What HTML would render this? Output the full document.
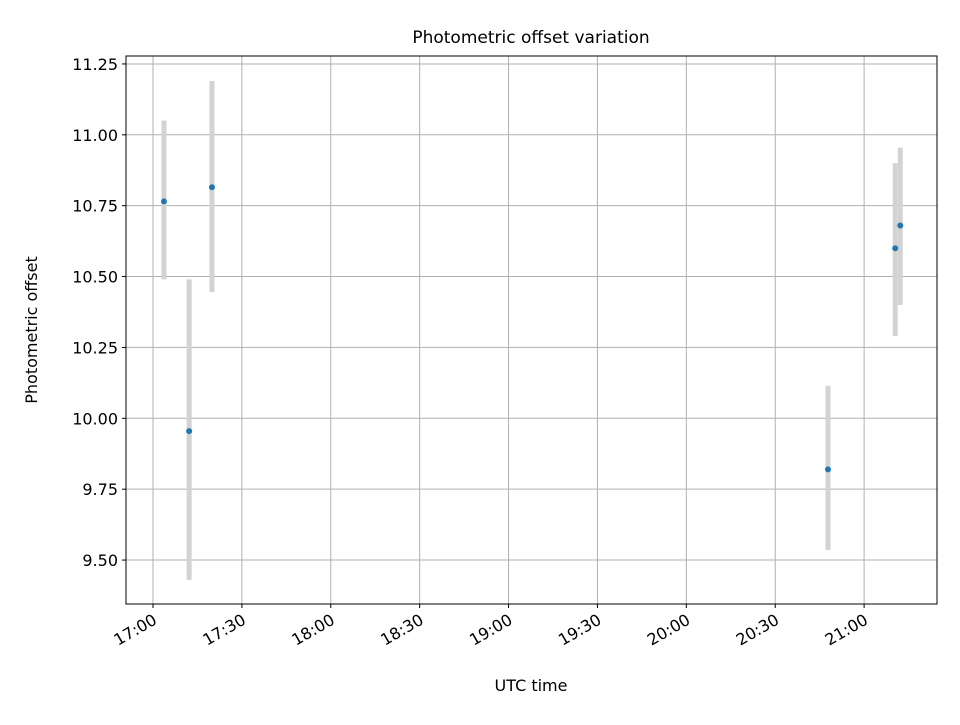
<!DOCTYPE html>
<html><head><meta charset="utf-8"><style>
body{margin:0;background:#fff}
svg{font-family:"DejaVu Sans","Liberation Sans",sans-serif}
</style></head><body>
<svg id="chart" width="960" height="720" viewBox="0 0 960 720">
<rect width="960" height="720" fill="#fff"/>
<text x="531" y="43" font-size="17" text-anchor="middle">Photometric offset variation</text>
<g id="grid"></g>
<g id="bars"></g>
<g id="points"></g>
<rect x="126" y="56" width="811" height="548" fill="none" stroke="#000" stroke-width="1"/>
<g id="yticks"></g>
<g id="xticks"></g>
<text x="531" y="691" font-size="16" text-anchor="middle">UTC time</text>
<text transform="translate(37,330) rotate(-90)" font-size="16" text-anchor="middle">Photometric offset</text>
</svg>
<script>
// minutes after 17:00 UTC
const times=[3.7,12.2,19.9,227.8,250.5,252.2];
const offsets=[10.765,9.955,10.815,9.82,10.6,10.68];
const errLow=[10.49,9.43,10.445,9.535,10.29,10.40];
const errHigh=[11.05,10.49,11.19,10.115,10.90,10.955];
const yTickValues=[9.5,9.75,10.0,10.25,10.5,10.75,11.0,11.25];
const yTickLabels=["9.50","9.75","10.00","10.25","10.50","10.75","11.00","11.25"];
const xTickValues=[0,30,60,90,120,150,180,210,240];
const xTickLabels=["17:00","17:30","18:00","18:30","19:00","19:30","20:00","20:30","21:00"];

const L=126,R=937,T=56,B=604;
const xMin=-9.11,xMax=264.6,yMin=9.345,yMax=11.278;
const sx=v=>L+(v-xMin)/(xMax-xMin)*(R-L);
const sy=v=>B-(v-yMin)/(yMax-yMin)*(B-T);
const NS="http://www.w3.org/2000/svg";
function mk(tag,attrs,parent){const e=document.createElementNS(NS,tag);for(const k in attrs)e.setAttribute(k,attrs[k]);document.getElementById(parent).appendChild(e);return e;}

yTickValues.forEach((v,i)=>{
  const y=sy(v);
  const g=mk("line",{x1:L,x2:R,y1:y,y2:y,stroke:"#b0b0b0","stroke-width":1},"grid");
  
  
  const t=mk("line",{x1:L-4,x2:L,y1:y,y2:y,stroke:"#000"},"yticks");
  
  
  const l=mk("text",{x:L-8,y:y+6,"font-size":16,"text-anchor":"end"},"yticks");
  l.textContent=yTickLabels[i];
  
  
});
xTickValues.forEach((v,i)=>{
  const x=sx(v);
  const g=mk("line",{x1:x,x2:x,y1:T,y2:B,stroke:"#b0b0b0","stroke-width":1},"grid");
  
  
  const t=mk("line",{x1:x,x2:x,y1:B,y2:B+4,stroke:"#000"},"xticks");
  
  
  const l=mk("text",{transform:`translate(${x+5},${B+19}) rotate(-30)`,"font-size":16,"text-anchor":"end"},"xticks");
  l.textContent=xTickLabels[i];
  
  
});
times.forEach((t,i)=>{
  const x=sx(t);
  const b=mk("line",{x1:x,x2:x,y1:sy(errLow[i]),y2:sy(errHigh[i]),stroke:"#d3d3d3","stroke-width":5},"bars");
  
  
  const p=mk("circle",{cx:x,cy:sy(offsets[i]),r:3,fill:"#1f77b4"},"points");
  
  
});
</script>
</body></html>
